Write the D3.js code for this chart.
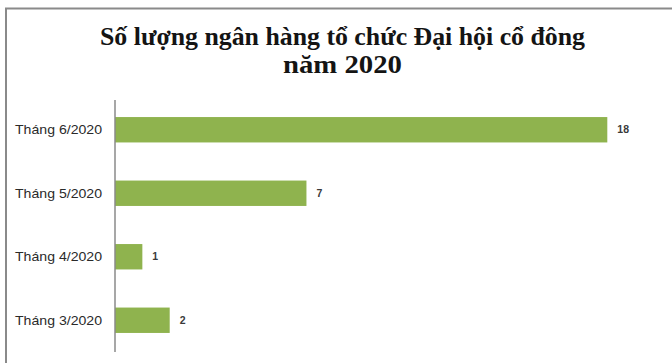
<!DOCTYPE html>
<html>
<head>
<meta charset="utf-8">
<script src="https://cdn.jsdelivr.net/npm/d3@7"></script>
<style>
  html, body { margin: 0; padding: 0; background: #fff; }
  svg { display: block; }
</style>
</head>
<body>
<svg id="chart" width="672" height="363"></svg>
<script>
// Number of banks holding their AGM, by month of 2020
const categories = ["Tháng 6/2020", "Tháng 5/2020", "Tháng 4/2020", "Tháng 3/2020"];
const values = [18, 7, 1, 2];
const titleLines = ["Số lượng ngân hàng tổ chức Đại hội cổ đông", "năm 2020"];

const W = 672, H = 363;
const svg = d3.select("#chart");

// frame of the chart area
svg.append("path")
  .attr("d", `M6,${H} L6,8.5 L${W},8.5`)
  .attr("fill", "none")
  .attr("stroke", "#8a8a8a")
  .attr("stroke-width", 2);

// title, two centred lines
const titleWidths = [485, 119];
svg.append("text")
  .attr("text-anchor", "middle")
  .attr("font-family", "'Liberation Serif', 'Times New Roman', serif")
  .attr("font-weight", "bold")
  .attr("font-size", 26)
  .attr("fill", "#141414")
  .selectAll("tspan")
  .data(titleLines)
  .join("tspan")
  .attr("x", 342.5)
  .attr("y", (d, i) => 45 + i * 28)
  .attr("textLength", (d, i) => titleWidths[i])
  .attr("lengthAdjust", "spacingAndGlyphs")
  .text(d => d);

const x = d3.scaleLinear().domain([0, 20]).range([115, 662]);
const y = d3.scaleBand().domain(categories).range([98, 352]).paddingInner(0.6).paddingOuter(0.3);

// bars
svg.append("g")
  .selectAll("rect")
  .data(categories)
  .join("rect")
  .attr("x", x(0))
  .attr("y", d => y(d))
  .attr("width", (d, i) => x(values[i]) - x(0))
  .attr("height", y.bandwidth())
  .attr("fill", "#8fb34e");

// value labels
svg.append("g")
  .selectAll("text")
  .data(categories)
  .join("text")
  .attr("x", (d, i) => x(values[i]) + 10)
  .attr("y", d => y(d) + y.bandwidth() / 2)
  .attr("dy", "0.35em")
  .attr("font-family", "'Liberation Sans', Arial, sans-serif")
  .attr("font-size", 10.5)
  .attr("font-weight", "bold")
  .attr("fill", "#3a3a3a")
  .text((d, i) => values[i]);

// category axis
const yAxis = d3.axisLeft(y).tickSize(0).tickPadding(13);
const ga = svg.append("g")
  .attr("transform", `translate(${x(0)},0)`)
  .call(yAxis);
ga.select(".domain")
  .attr("d", `M0,100 V352`)
  .attr("stroke", "#8a8a8a")
  .attr("stroke-width", 1.5);
ga.selectAll(".tick text")
  .attr("font-family", "'Liberation Sans', Arial, sans-serif")
  .attr("font-size", 13.5)
  .attr("textLength", 87)
  .attr("lengthAdjust", "spacingAndGlyphs")
  .attr("fill", "#2a2a2a");
</script>
</body>
</html>
